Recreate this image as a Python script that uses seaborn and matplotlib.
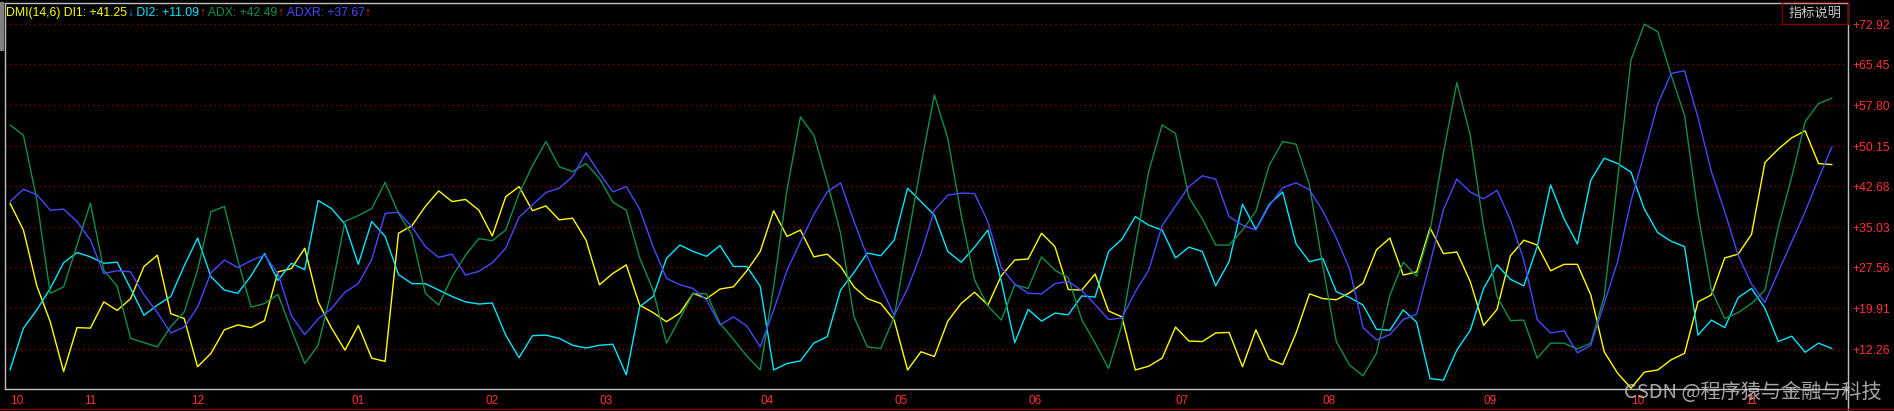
import numpy as np
import pandas as pd
import seaborn as sns
import matplotlib.pyplot as plt
from matplotlib.patches import Rectangle
from matplotlib.lines import Line2D

# DMI(14,6) values, one sample every 2 trading days
di1 = [39.5, 34.5, 24.1, 17.4, 8.1, 16.3, 16.2, 21.1, 19.5, 21.7, 27.7, 29.8, 18.9, 18.0, 9.0, 11.5, 15.9, 16.8,
       16.3, 17.6, 26.7, 27.3, 31.1, 21.1, 16.2, 12.1, 16.7, 10.6, 10.0, 33.9, 35.3, 38.9, 41.8, 39.8, 40.2,
       38.2, 33.4, 40.7, 42.6, 38.1, 39.0, 36.4, 36.7, 32.6, 24.3, 26.4, 28.0, 20.5, 19.1, 17.4, 19.0, 22.7,
       21.7, 23.5, 23.9, 26.9, 30.5, 38.1, 33.3, 34.5, 29.5, 30.0, 27.7, 23.9, 21.7, 20.8, 17.7, 8.4, 11.8,
       10.9, 17.5, 20.8, 22.9, 20.5, 26.0, 28.9, 29.1, 33.9, 31.4, 23.4, 23.3, 26.3, 19.4, 18.3, 8.4, 9.1,
       10.6, 16.4, 13.8, 13.7, 15.3, 15.4, 9.0, 15.9, 10.4, 9.4, 15.3, 22.6, 21.7, 21.5, 22.8, 24.6, 30.8,
       33.0, 26.1, 26.7, 34.9, 30.1, 30.4, 24.9, 16.7, 19.7, 29.7, 32.6, 31.7, 26.9, 28.1, 28.1, 22.4, 11.8, 7.8,
       5.0, 8.0, 8.4, 10.3, 11.5, 21.1, 22.4, 29.3, 30.0, 33.7, 47.1, 49.6, 51.7, 53.0, 46.9, 46.7]

di2 = [8.4, 16.2, 19.6, 23.6, 28.4, 30.3, 29.5, 28.3, 28.5, 23.6, 18.6, 20.5, 22.1, 27.8, 33.0, 25.8, 23.3, 22.7,
       26.0, 30.1, 25.1, 28.3, 27.1, 40.0, 38.5, 35.6, 28.1, 36.1, 33.3, 26.2, 24.5, 24.5, 23.3, 22.1, 21.1,
       20.7, 20.9, 14.9, 10.7, 14.8, 14.9, 14.3, 13.0, 12.5, 13.0, 13.2, 7.5, 20.2, 22.1, 29.2, 31.7, 30.5,
       29.6, 31.6, 27.7, 27.7, 24.0, 8.4, 9.6, 10.1, 13.4, 14.6, 23.3, 26.6, 30.2, 29.7, 32.6, 42.3, 39.8,
       37.3, 30.5, 28.5, 31.3, 34.5, 24.9, 13.5, 19.7, 17.5, 19.0, 18.7, 22.2, 22.0, 30.5, 32.8, 37.0, 35.4,
       34.5, 29.3, 31.3, 30.5, 24.1, 28.6, 39.3, 34.6, 39.3, 41.6, 31.9, 28.6, 29.2, 23.0, 21.9, 20.5, 16.0,
       15.8, 19.6, 17.3, 6.8, 6.5, 12.1, 15.8, 23.6, 28.0, 25.3, 24.1, 31.4, 42.9, 36.6, 31.9, 43.8, 47.9, 46.9,
       45.3, 38.4, 34.0, 32.4, 31.4, 14.9, 17.7, 16.3, 21.9, 23.6, 19.9, 13.7, 14.7, 11.7, 13.4, 12.4]

adx = [54.1, 52.2, 40.1, 22.7, 23.9, 31.7, 39.5, 27.0, 24.0, 14.3, 13.5, 12.7, 16.5, 19.2, 27.0, 37.9, 38.9, 28.9,
       20.1, 20.8, 22.5, 15.9, 9.6, 13.0, 23.3, 36.1, 37.2, 38.5, 43.4, 37.6, 33.6, 22.7, 20.5, 25.8, 29.8,
       32.9, 32.5, 34.5, 41.3, 46.5, 51.0, 46.3, 45.4, 46.9, 44.1, 39.7, 38.2, 29.3, 23.3, 13.4, 18.0, 22.7,
       22.6, 17.1, 14.1, 11.0, 8.4, 23.9, 42.0, 55.6, 52.2, 43.5, 33.9, 18.3, 12.7, 12.4, 18.3, 32.6, 46.6,
       59.7, 51.6, 37.3, 25.2, 20.3, 17.7, 24.3, 23.6, 29.5, 27.0, 25.6, 17.8, 13.4, 8.7, 16.8, 31.4, 45.4,
       54.1, 52.5, 40.6, 36.6, 31.7, 31.7, 34.5, 38.0, 46.6, 51.0, 50.5, 42.9, 27.7, 13.7, 9.3, 7.3, 11.5,
       22.3, 28.5, 25.9, 34.3, 48.9, 62.0, 52.2, 35.1, 22.1, 17.6, 17.7, 10.6, 13.4, 13.4, 12.3, 13.4, 22.1, 43.8,
       66.2, 72.9, 71.5, 63.4, 55.9, 37.6, 23.3, 18.0, 19.1, 20.8, 23.3, 35.1, 44.4, 54.7, 58.1, 59.1]

adxr = [39.8, 42.1, 41.1, 38.2, 38.4, 36.1, 32.6, 26.4, 26.9, 26.7, 22.4, 19.1, 15.3, 16.4, 20.1, 26.5, 28.9, 27.5,
        28.8, 29.8, 26.4, 18.5, 15.0, 17.9, 19.9, 22.9, 24.5, 29.0, 37.6, 37.8, 35.1, 31.4, 29.4, 30.0, 26.1,
        26.8, 28.4, 31.1, 36.9, 39.2, 41.5, 42.3, 44.5, 48.9, 45.1, 41.6, 42.6, 38.4, 31.4, 25.5, 24.3, 23.6,
        21.4, 16.8, 18.3, 16.6, 12.7, 19.5, 27.0, 32.3, 37.4, 41.6, 43.3, 36.1, 29.5, 23.9, 18.6, 23.6, 30.1,
        38.2, 41.0, 41.4, 41.3, 36.0, 27.5, 24.4, 22.7, 22.6, 24.5, 24.9, 23.2, 20.6, 17.8, 18.1, 23.0, 27.0,
        35.3, 39.0, 42.6, 44.6, 44.0, 37.0, 35.4, 34.5, 39.0, 42.4, 43.3, 42.0, 38.0, 33.0, 27.2, 16.3, 14.0,
        15.0, 17.8, 18.8, 28.3, 38.3, 44.0, 41.6, 40.3, 41.9, 36.4, 28.9, 17.8, 15.3, 15.7, 11.6, 13.0, 20.8, 28.6,
        39.9, 48.8, 58.0, 63.7, 64.2, 55.5, 45.4, 37.9, 29.8, 24.4, 21.0, 26.7, 32.3, 37.9, 44.1, 50.0]

days = list(range(0, 2 * len(di1), 2))

month_days = [0, 11, 27, 51, 71, 88, 112, 132, 152, 174, 196, 220, 242, 259]
month_labels = ["10", "11", "12", "01", "02", "03", "04", "05", "06", "07", "08", "09", "10", "11"]

grid_vals = [12.26, 19.91, 27.56, 35.03, 42.68, 50.15, 57.80, 65.45, 72.92]

colors = {"DI1": "#ffff00", "DI2": "#00e8ff", "ADX": "#10904a", "ADXR": "#4848ff"}

df = pd.DataFrame({"day": days, "DI1": di1, "DI2": di2, "ADX": adx, "ADXR": adxr})
long_df = df.melt(id_vars="day", var_name="series", value_name="value")

sns.set_style("dark", {"axes.facecolor": "black", "figure.facecolor": "black"})
plt.rcParams["font.family"] = ["Liberation Sans", "DejaVu Sans", "Noto Sans CJK SC"]

W, H = 1894, 411
fig = plt.figure(figsize=(W / 100, H / 100), dpi=100, facecolor="black")
ax = fig.add_axes([5 / W, 22 / H, 1843 / W, 386 / H])
ax.set_facecolor("black")

# dotted dark red gridlines
for v in grid_vals:
    ax.axhline(v, color="#8b0000", lw=1, ls=(0, (1, 2.5)), zorder=0)

sns.lineplot(data=long_df, x="day", y="value", hue="series", palette=colors,
             hue_order=["DI1", "DI2", "ADX", "ADXR"], linewidth=1, errorbar=None,
             legend=False, ax=ax)

ax.set_xlim(-0.75, 274.4)
ax.set_ylim(4.85, 76.84)
ax.set_xlabel("")
ax.set_ylabel("")
ax.grid(False)

ax.yaxis.tick_right()
ax.set_yticks(grid_vals)
ax.set_yticklabels(["+%.2f" % v for v in grid_vals])
ax.tick_params(axis="y", length=0, pad=3, colors="#ff3030", labelsize=8.8)

ax.set_xticks(month_days)
ax.set_xticklabels(month_labels, ha="left")
ax.tick_params(axis="x", length=3, width=0.8, direction="out", pad=1,
               colors="#ff3030", labelsize=8.5)

for side in ["left", "top", "bottom", "right"]:
    ax.spines[side].set_color("#c0c0c0")
    ax.spines[side].set_linewidth(1)

# right border runs to bottom of figure, dark red strip at bottom
fig.add_artist(Line2D([1848 / W, 1848 / W], [0, 22 / H], color="#c0c0c0", lw=1))
fig.add_artist(Line2D([0, 1], [2 / H, 2 / H], color="#800000", lw=1))
fig.patches.append(Rectangle((0, 1 - 50 / H), 3 / W, 48 / H, transform=fig.transFigure,
                             color="#808080"))

# coloured title line
parts = [("DMI(14,6) DI1: +41.25", "#ffff00"), ("↓", "#00a8ff"),
         (" DI2: +11.09", "#00e8ff"), ("↑", "#ff2020"),
         (" ADX: +42.49", "#10904a"), ("↑", "#ff2020"),
         (" ADXR: +37.67", "#4848ff"), ("↑", "#ff2020")]
renderer = fig.canvas.get_renderer()
x = 6
for s, c in parts:
    t = fig.text(x / W, 1 - 13 / H, s, color=c, fontsize=8.8, va="center", ha="left")
    x = t.get_window_extent(renderer).x1

# indicator button
fig.patches.append(Rectangle((1782 / W, 1 - 24 / H), 66 / W, 22 / H, transform=fig.transFigure,
                             fill=False, edgecolor="#800000", lw=1))
fig.text(1815 / W, 1 - 13 / H, "指标说明", color="#c8c8c8", fontsize=9.5,
         family=["Noto Sans CJK SC"], ha="center", va="center")

# watermark
fig.text(1624 / W, 1 - 392 / H, "CSDN @程序猿与金融与科技", color="#d0d0d0", alpha=0.8,
         fontsize=14.5, family=["Noto Sans CJK SC", "DejaVu Sans"], ha="left", va="center")

fig.savefig("out.png", dpi=100, facecolor="black")
